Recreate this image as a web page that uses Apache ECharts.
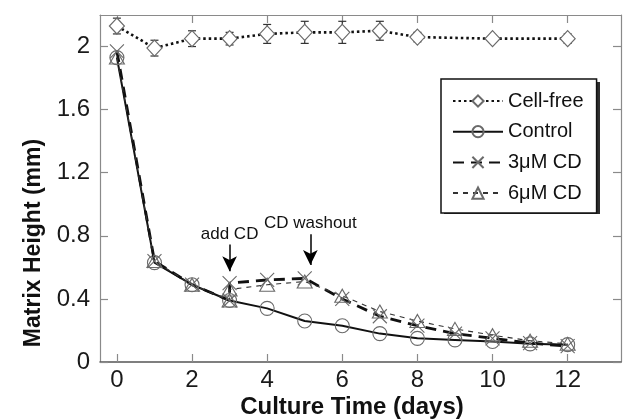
<!DOCTYPE html>
<html>
<head>
<meta charset="utf-8">
<script src="https://cdn.jsdelivr.net/npm/echarts@6/dist/echarts.min.js"></script>
<style>
html,body{margin:0;padding:0;background:#fff;}
#chart{width:629px;height:419px;}
</style>
</head>
<body>
<div id="chart"></div>
<script>
// ---- data ----
const cellFreeDays = [0, 1, 2, 3, 4, 5, 6, 7, 8, 10, 12];
const cellFree     = [2.13, 1.99, 2.05, 2.05, 2.08, 2.09, 2.09, 2.10, 2.06, 2.05, 2.05];
const cellFreeErr  = [0.05, 0.05, 0.05, 0.04, 0.06, 0.07, 0.07, 0.06, 0.03, 0.02, 0.03];

const controlDays = [0, 1, 2, 3, 4, 5, 6, 7, 8, 9, 10, 11, 12];
const control     = [1.93, 0.63, 0.49, 0.39, 0.34, 0.26, 0.23, 0.18, 0.15, 0.14, 0.13, 0.115, 0.11];

const cdDays = [0, 1, 2, 3, 3, 4, 5, 6, 7, 8, 9, 10, 11, 12];
const cd3    = [1.97, 0.64, 0.49, 0.39, 0.50, 0.52, 0.53, 0.40, 0.29, 0.23, 0.18, 0.15, 0.12, 0.10];
const cd6    = [1.93, 0.64, 0.49, 0.39, 0.46, 0.49, 0.51, 0.42, 0.32, 0.26, 0.21, 0.17, 0.135, 0.115];

const xTickLabels = [0, 2, 4, 6, 8, 10, 12];
const yTickLabels = [0, 0.4, 0.8, 1.2, 1.6, 2];

const seriesNames = ['Cell-free', 'Control', '3\u03bcM CD', '6\u03bcM CD'];

const annotations = [
  { text: 'add CD',     x: 3.0,  textY: 0.81, from: 0.745, to: 0.575 },
  { text: 'CD washout', x: 5.15, textY: 0.88, from: 0.81,  to: 0.615 }
];

// ---- build ----
const pairs = (xs, ys) => xs.map((x, i) => [x, ys[i]]);
const FONT = 'Liberation Sans, Arial, sans-serif';
const MK = '#6a6a6a';

const chart = echarts.init(document.getElementById('chart'), null, { renderer: 'canvas' });

const xCommon = {
  type: 'value', min: -0.45, max: 13.42,
  splitLine: { show: false },
  axisLine: { show: true, onZero: false, lineStyle: { color: '#8a8a8a', width: 1.2 } },
  axisTick: { show: true, inside: true, length: 8, customValues: xTickLabels, lineStyle: { color: '#8a8a8a', width: 1.2 } }
};
const yCommon = {
  type: 'value', min: 0, max: 2.2,
  splitLine: { show: false },
  axisLine: { show: true, onZero: false, lineStyle: { color: '#8a8a8a', width: 1.2 } },
  axisTick: { show: true, inside: true, length: 8, customValues: yTickLabels, lineStyle: { color: '#8a8a8a', width: 1.2 } }
};

const option = {
  backgroundColor: '#fff',
  animation: false,
  grid: { left: 100, right: 8, top: 15, bottom: 57, containLabel: false },
  xAxis: [
    Object.assign({}, xCommon, {
      position: 'bottom',
      axisLine: { show: true, onZero: false, lineStyle: { color: '#555', width: 1.5 } },
      axisLabel: { show: true, customValues: xTickLabels, margin: 6, fontSize: 24, color: '#1a1a1a', fontFamily: FONT }
    }),
    Object.assign({}, xCommon, { position: 'top', axisLabel: { show: false } })
  ],
  yAxis: [
    Object.assign({}, yCommon, {
      position: 'left',
      axisLabel: { show: true, customValues: yTickLabels, margin: 10, fontSize: 24, color: '#1a1a1a', fontFamily: FONT,
        formatter: v => String(+(+v).toFixed(1)) }
    }),
    Object.assign({}, yCommon, { position: 'right', axisLabel: { show: false } })
  ],
  legend: {
    orient: 'vertical',
    left: 441, top: 79,
    z: 10,
    padding: [12, 13, 10, 11],
    itemGap: 10.7,
    itemWidth: 50, itemHeight: 14,
    backgroundColor: '#fff',
    borderColor: '#111', borderWidth: 1.5,
    textStyle: { fontSize: 20, color: '#111', fontFamily: FONT },
    data: seriesNames
  },
  graphic: [
    { type: 'rect', z: 5, shape: { x: 444, y: 82, width: 156, height: 132 }, style: { fill: '#2e2e2e' } },
    { type: 'text', x: 352, y: 407, style: { text: 'Culture Time (days)', font: 'bold 24px ' + FONT, fill: '#111', textAlign: 'center', textVerticalAlign: 'middle' } },
    { type: 'text', x: 34, y: 243, rotation: Math.PI / 2, style: { text: 'Matrix Height (mm)', font: 'bold 23px ' + FONT, fill: '#111', textAlign: 'center', textVerticalAlign: 'middle' } }
  ],
  series: [
    {
      type: 'custom', name: 'errCF', silent: true, z: 1,
      data: cellFreeDays.map((d, i) => [d, cellFree[i], cellFreeErr[i]]),
      encode: { x: 0, y: 1 },
      renderItem: (params, api) => {
        const x = api.value(0), y = api.value(1), e = api.value(2);
        const t = api.coord([x, y + e]), b = api.coord([x, y - e]);
        const w = 4, st = { stroke: '#333', lineWidth: 1.2 };
        return { type: 'group', children: [
          { type: 'line', shape: { x1: t[0], y1: t[1], x2: b[0], y2: b[1] }, style: st },
          { type: 'line', shape: { x1: t[0] - w, y1: t[1], x2: t[0] + w, y2: t[1] }, style: st },
          { type: 'line', shape: { x1: b[0] - w, y1: b[1], x2: b[0] + w, y2: b[1] }, style: st }
        ] };
      }
    },
    {
      name: seriesNames[0], type: 'line', z: 3,
      data: pairs(cellFreeDays, cellFree),
      symbol: 'diamond', symbolSize: [15, 16],
      itemStyle: { color: '#fff', borderColor: MK, borderWidth: 1.2 },
      lineStyle: { color: '#111', width: 2.6, type: [2.5, 3] }
    },
    {
      name: seriesNames[1], type: 'line', z: 4,
      data: pairs(controlDays, control),
      symbol: 'circle', symbolSize: 14,
      itemStyle: { color: 'rgba(255,255,255,0)', borderColor: MK, borderWidth: 1.1 },
      lineStyle: { color: '#111', width: 2, type: 'solid' },
      markLine: {
        silent: true, symbol: ['none', 'arrow'], symbolSize: [11, 15],
        label: { show: false },
        lineStyle: { color: '#000', width: 1.5, type: 'solid' },
        data: annotations.map(a => [{ coord: [a.x, a.from] }, { coord: [a.x, a.to] }])
      },
      markPoint: {
        silent: true, symbol: 'circle', symbolSize: 0,
        label: { show: true, position: 'inside', color: '#111', fontSize: 17, fontFamily: FONT, formatter: p => p.name },
        data: annotations.map(a => ({ name: a.text, coord: [a.x, a.textY] }))
      }
    },
    {
      name: seriesNames[2], type: 'line', z: 5,
      data: pairs(cdDays, cd3),
      symbol: 'path://M0,0L10,10M10,0L0,10', symbolSize: 14,
      itemStyle: { color: 'none', borderColor: MK, borderWidth: 1.1 },
      lineStyle: { color: '#111', width: 2.8, type: [11, 7] }
    },
    {
      name: seriesNames[3], type: 'line', z: 5,
      data: pairs(cdDays, cd6),
      symbol: 'triangle', symbolSize: [15, 13],
      itemStyle: { color: 'rgba(255,255,255,0)', borderColor: MK, borderWidth: 1.1 },
      lineStyle: { color: '#333', width: 1.1, type: [5, 5] }
    }
  ]
};
chart.setOption(option);
</script>
</body>
</html>
